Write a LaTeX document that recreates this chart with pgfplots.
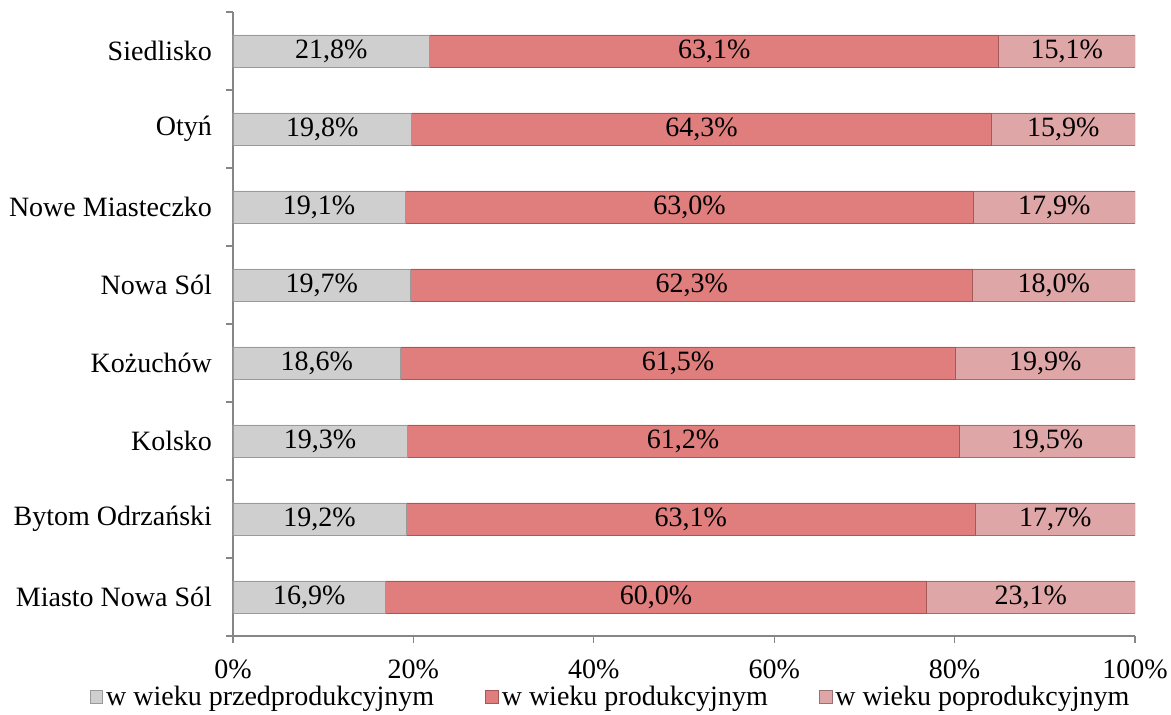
\documentclass[border=0pt]{standalone}
\usepackage{pgfplots}
\pgfplotsset{compat=1.18}
\usepackage{pgfplotstable}
\usepackage{fontspec}
\setmainfont{Liberation Serif}
\newcommand\cf{\fontsize{14bp}{16bp}\selectfont}

\definecolor{axgray}{HTML}{868686}
\definecolor{g1}{HTML}{CFCFCF}\definecolor{g1d}{HTML}{9A9A9A}
\definecolor{r1}{HTML}{DF7E7D}\definecolor{r1d}{HTML}{A65757}
\definecolor{p1}{HTML}{DEA6A6}\definecolor{p1d}{HTML}{9B7070}

% grupy wieku [%]
\pgfplotstableread{
y a b c
0 16.9 60.0 23.1
1 19.2 63.1 17.7
2 19.3 61.2 19.5
3 18.6 61.5 19.9
4 19.7 62.3 18.0
5 19.1 63.0 17.9
6 19.8 64.3 15.9
7 21.8 63.1 15.1
}\dane

\pgfplotsset{
  base/.style={width=451bp, height=312bp, scale only axis,
    xmin=0, xmax=100, ymin=-0.5, ymax=7.5},
  legsq/.style={legend image code/.code={\draw[##1] (0bp,-3.2bp) rectangle (6.4bp,3.2bp);}},
  lab/.style={only marks, mark=none, draw=none,
    point meta=explicit,
    nodes near coords={\pgfmathprintnumber[fixed,fixed zerofill,precision=1,use comma,assume math mode=true]{\pgfplotspointmeta}\%},
    every node near coord/.append style={anchor=center, font=\cf, text=black}},
}

\begin{document}
\begin{tikzpicture}
\begin{axis}[base, xbar stacked, bar width=16bp,
  axis x line*=bottom, axis y line*=left,
  axis line style={axgray, line width=0.7bp},
  tick align=outside, major tick length=3.5bp,
  tick style={axgray, line width=0.7bp},
  xtick={0,20,...,100},
  xticklabel={\pgfmathprintnumber[assume math mode=true]{\tick}\%},
  xticklabel style={yshift=-5bp},
  ytick={-0.5,0.5,...,7.5}, yticklabels={},
  extra y ticks={0,1,2,3,4,5,6,7},
  extra y tick labels={Miasto Nowa Sól, Bytom Odrzański, Kolsko, Kożuchów, Nowa Sól, Nowe Miasteczko, Otyń, Siedlisko},
  extra y tick style={major tick length=0pt, yticklabel style={xshift=-7bp}},
  ticklabel style={font=\cf},
  legend style={draw=none, fill=none, at={(0.419,0)}, anchor=center, yshift=-30.5bp,
    legend columns=3, font=\cf, nodes={inner sep=1.5bp},
    /tikz/every even column/.append style={column sep=24bp}},
]
\addplot[legsq, draw=g1d, fill=g1] table[x=a, y=y] \dane;
\addplot[legsq, draw=r1d, fill=r1] table[x=b, y=y] \dane;
\addplot[legsq, draw=p1d, fill=p1] table[x=c, y=y] \dane;
\legend{w wieku przedprodukcyjnym, w wieku produkcyjnym, w wieku poprodukcyjnym}
\end{axis}
\begin{axis}[base, hide axis]
\addplot[lab] table[x expr=\thisrow{a}/2, y=y, meta=a] \dane;
\addplot[lab] table[x expr=\thisrow{a}+\thisrow{b}/2, y=y, meta=b] \dane;
\addplot[lab] table[x expr=\thisrow{a}+\thisrow{b}+\thisrow{c}/2, y=y, meta=c] \dane;
\end{axis}
\pgfresetboundingbox
\path ([shift={(-116.5bp,-39.5bp)}]current axis.south west) rectangle ([shift={(18bp,6bp)}]current axis.north east);
\end{tikzpicture}
\end{document}
